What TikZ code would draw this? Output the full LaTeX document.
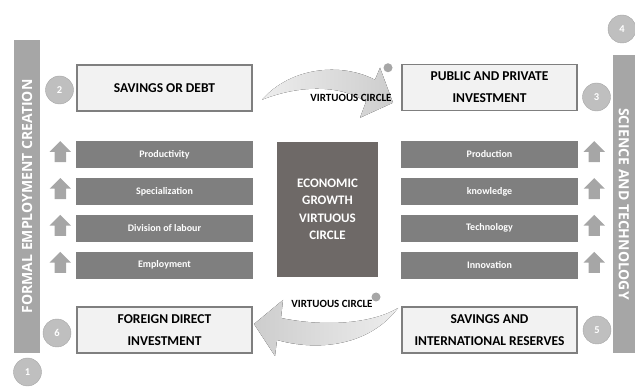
\documentclass[tikz,border=0pt]{standalone}
\usepackage{fontspec}
\setmainfont{Carlito}
\newfontfamily\barfont{Open Sans}[BoldFont={Open Sans Bold}]
\usepackage{xcolor}
\usepackage{tikz}
\usetikzlibrary{shapes, arrows.meta, positioning, calc}

\definecolor{bargray}{HTML}{A6A6A6}
\definecolor{numgray}{HTML}{BFBFBF}
\definecolor{rowgray}{HTML}{7F7F7F}
\definecolor{hubgray}{HTML}{6E6967}
\definecolor{boxline}{HTML}{7F7F7F}
\definecolor{boxfill}{HTML}{F2F2F2}
\definecolor{swooshlight}{HTML}{EDEDED}
\definecolor{swooshdark}{HTML}{CDCDCD}

\begin{document}
\begin{tikzpicture}[
        x=1pt, y=-1pt,
        node distance=9.5pt and 5pt,
        box/.style={rectangle, draw=boxline, line width=1.2pt, fill=boxfill, align=center, minimum width=175pt, minimum height=46pt, inner sep=0pt, font=\fontsize{13.5}{22}\selectfont\bfseries},
        rowbox/.style={rectangle, fill=rowgray, text=white, minimum width=177pt, minimum height=27pt, inner sep=0pt, font=\fontsize{10}{12}\selectfont\bfseries},
        hub/.style={rectangle, fill=hubgray, text=white, align=center, minimum width=101pt, minimum height=135pt, font=\fontsize{13}{17.5}\selectfont\bfseries},
        bar/.style={rectangle, fill=bargray, text=white, inner sep=0pt, font=\fontsize{14}{16}\barfont\bfseries},
        num/.style={circle, fill=numgray, draw=bargray, text=white, minimum size=28pt, inner sep=0pt, font=\fontsize{10.5}{12}\selectfont\bfseries},
        uparrow/.style={single arrow, shape border rotate=90, fill=bargray, text width=11pt, minimum height=21pt, minimum width=21pt, single arrow head extend=5pt, inner sep=0pt},
        dot/.style={circle, fill=bargray, minimum size=9pt, inner sep=0pt},
        vclabel/.style={font=\fontsize{11}{13}\selectfont\bfseries, inner sep=0pt}
    ]
        \useasboundingbox (0,0) rectangle (635,387);

        % Side bars
        \node[bar, rotate=90, minimum width=313pt, minimum height=26pt] (lbar) at (27,196.5) {FORMAL EMPLOYMENT CREATION};
        \node[bar, rotate=-90, minimum width=298pt, minimum height=22pt] (rbar) at (624,204) {SCIENCE AND TECHNOLOGY};

        % Corner boxes
        \node[box] (debt) at (164.5,88) {SAVINGS OR DEBT};
        \node[box] (pubinv) at (489.5,87.5) {PUBLIC AND PRIVATE\\INVESTMENT};
        \node[box] (fdi) at (164.5,330) {FOREIGN DIRECT\\INVESTMENT};
        \node[box] (reserves) at (489.5,330) {SAVINGS AND\\INTERNATIONAL RESERVES};

        % Centre
        \node[hub] (hub) at (327.5,209.5) {ECONOMIC\\GROWTH\\VIRTUOUS\\CIRCLE};

        % Left column
        \node[rowbox] (prod) at (164.5,154.5) {Productivity};
        \node[rowbox, below=of prod] (spec) {Specialization};
        \node[rowbox, below=of spec] (divlab) {Division of labour};
        \node[rowbox, below=of divlab] (employ) {Employment};

        % Right column
        \node[rowbox] (production) at (489.5,154.5) {Production};
        \node[rowbox, below=of production] (know) {knowledge};
        \node[rowbox, below=of know] (tech) {Technology};
        \node[rowbox, below=of tech] (innov) {Innovation};

        % Up arrows
        \node[uparrow] (upprod) at ([xshift=-15.5pt]prod.west) {};
        \node[uparrow] (upspec) at ([xshift=-15.5pt]spec.west) {};
        \node[uparrow] (updivlab) at ([xshift=-15.5pt]divlab.west) {};
        \node[uparrow] (upemploy) at ([xshift=-15.5pt]employ.west) {};
        \node[uparrow] (upproduction) at ([xshift=16pt]production.east) {};
        \node[uparrow] (upknow) at ([xshift=16pt]know.east) {};
        \node[uparrow] (uptech) at ([xshift=16pt]tech.east) {};
        \node[uparrow] (upinnov) at ([xshift=16pt]innov.east) {};

        % Numbers
        \node[num] (n1) at (27.5,372) {1};
        \node[num] (n2) at (59.5,90) {2};
        \node[num] (n3) at (596.5,97) {3};
        \node[num] (n4) at (622,29) {4};
        \node[num] (n5) at (597,330) {5};
        \node[num] (n6) at (57,333) {6};

        % Virtuous circle swooshes
        \coordinate (vtop) at ($(debt.east)!0.5!(pubinv.west)$);
        \begin{scope}[shift={(vtop)}]
            \fill[left color=swooshlight, right color=swooshdark] (-65,12) .. controls (-37,-20) and (13,-26) .. (48,-8) -- (53,-20) -- (66,15) -- (33,30) -- (39,14) .. controls (13,-3) and (-27,-3) .. cycle;
            \node[dot] (dtop) at (61,-20) {};
            \node[vclabel] (vctop) at (24,10) {VIRTUOUS CIRCLE};
        \end{scope}

        \coordinate (vbot) at ($(fdi.east)!0.5!(reserves.west)$);
        \begin{scope}[shift={(vbot)}]
            \fill[left color=swooshdark, right color=swooshlight] (71,-22) .. controls (43,15) and (-7,22) .. (-50,10) -- (-52,26) -- (-73,-6) -- (-44,-30) -- (-46,-12) .. controls (3,-2) and (48,-8) .. cycle;
            \node[dot] (dbot) at (49,-33) {};
            \node[vclabel] (vcbot) at (5,-26) {VIRTUOUS CIRCLE};
        \end{scope}

    \end{tikzpicture}
\end{document}
